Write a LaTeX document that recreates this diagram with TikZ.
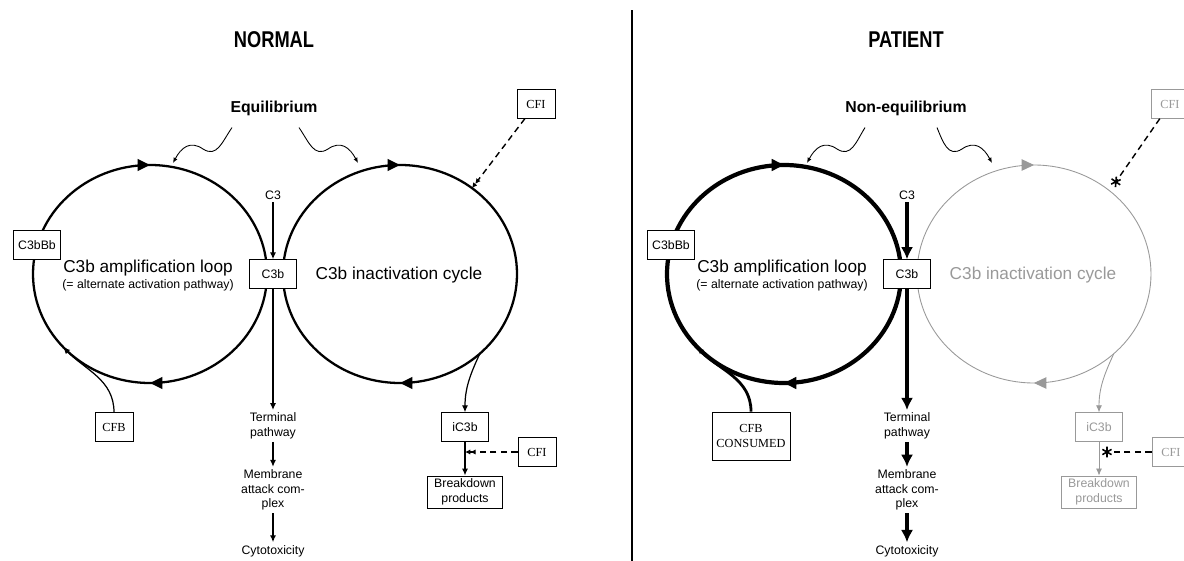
\documentclass[tikz,border=0pt]{standalone}
\usepackage{fontspec}
\setmainfont{Liberation Sans}
\newfontfamily\cfserif{Liberation Serif}
\usetikzlibrary{
    arrows.meta,
    decorations.markings,
    calc,
    positioning
}

\definecolor{fadegray}{gray}{0.6}

\newcommand{\smalltxt}{\fontsize{7}{8.2}\selectfont}
\newcommand{\midtxt}{\fontsize{9.8}{11}\selectfont}
\newcommand{\eqtxt}{\fontsize{9}{11}\selectfont\bfseries}
\newcommand{\titletxt}{\fontsize{13}{15}\selectfont\bfseries}

\tikzset{
    box/.style={draw, line width=0.5pt, fill=white, inner sep=0pt, font=\smalltxt, align=center,
        minimum width=0.95cm, minimum height=0.57cm},
    enzyme/.style={box, font=\cfserif\fontsize{7}{8.2}\selectfont, minimum width=0.76cm},
    plain/.style={font=\smalltxt, align=center, inner sep=1.5pt},
    ring/.style={line width=1.3pt, decoration={markings,
        mark=at position 0.25 with {\arrow{Triangle[length=7pt, width=6.5pt]}},
        mark=at position 0.75 with {\arrow{Triangle[length=7pt, width=6.5pt]}}},
        postaction=decorate},
    flow/.style={line width=0.8pt, -{Latex[length=4pt, width=3.5pt]}},
    fatflow/.style={line width=2.2pt, -{Latex[length=7pt, width=7pt]}},
    feed/.style={line width=0.7pt, -{Latex[length=4pt, width=3.5pt]}},
    squig/.style={line width=0.5pt, -{Latex[length=3pt, width=2.5pt]}},
    inhib/.style={line width=0.8pt, dash pattern=on 3.5pt off 2.5pt,
        -{Latex[length=3pt, width=3pt] Latex[length=3pt, width=3pt]}},
    blocked/.style={line width=0.8pt, dash pattern=on 3.5pt off 2.5pt,
        -{Rays[n=6, length=6pt, line width=0.9pt]}},
    faded/.style={draw=fadegray, text=fadegray}
}

\begin{document}
\begin{tikzpicture}[x=0.02cm, y=0.02cm]
    \useasboundingbox (0,0) rectangle (1184,-561);
    \draw[line width=0.6pt] (632,-10) -- (632,-561);

    % normal side
    \begin{scope}[shift={(0, 0)}]
        \node[font=\titletxt] (titleN) at (274,-40) {\scalebox{0.8}[1]{NORMAL}};
        \node[font=\eqtxt] (eqN) at (274,-108) {Equilibrium};
        \coordinate (ampN) at (150,-274);
        \coordinate (inaN) at (400,-274);
        \draw[ring] (ampN) ++(-117,0) arc[start angle=180, end angle=-180, x radius=117, y radius=109];
        \draw[ring] (inaN) ++(-117,0) arc[start angle=180, end angle=-180, x radius=117, y radius=109];
        \coordinate (cfbinN) at ([shift={(222:117 and 109)}]ampN);
        \coordinate (cfiinN) at ([shift={(52:117 and 109)}]inaN);
        \coordinate (ic3outN) at ([shift={(-47:117 and 109)}]inaN);
        \coordinate (eqlN) at (173,-163);
        \coordinate (eqrN) at (358,-163);

        \node[plain, font=\midtxt] (amptxtN) at (148,-268) {C3b amplification loop};
        \node[plain] (alttxtN) at (148,-285) {(= alternate activation pathway)};
        \node[plain, font=\midtxt] (inatxtN) at (399,-275) {C3b inactivation cycle};

        \node[box] (c3bbbN) at (37,-245) {C3bBb};
        \node[box] (c3bN) at (273,-274) {C3b};
        \node[plain] (c3N) at (273,-195) {C3};
        \node[plain] (termN) at (273,-426) {Terminal\\pathway};
        \node[plain] (macN) at (273,-490) {Membrane\\attack com-\\plex};
        \node[plain] (cytoN) at (273,-551) {Cytotoxicity};
        \node[enzyme] (cfbN) at (114,-427) {CFB};
        \node[enzyme] (cfitN) at (536,-104) {CFI};
        \node[box] (ic3bN) at (465,-427) {iC3b};
        \node[box, minimum width=1.5cm, minimum height=0.64cm] (bdN) at (465,-492) {Breakdown\\products};
        \node[enzyme] (cfibN) at (537,-452) {CFI};

        \draw[squig] ($(eqN.south)+(-42,-6)$) .. controls (222,-142) and (217,-158) .. (203,-149)
            .. controls (190,-140) and (181,-148) .. (eqlN);
        \draw[squig] ($(eqN.south)+(25,-6)$) .. controls (309,-142) and (314,-158) .. (328,-149)
            .. controls (341,-140) and (350,-148) .. (eqrN);
        \draw[flow] (c3N) -- (c3bN);
        \draw[flow] (c3bN) -- (termN);
        \draw[flow] (termN) -- (macN);
        \draw[flow] (macN) -- (cytoN);
        \draw[feed] (cfbN.north) to[out=90, in=-46] (cfbinN);
        \draw[feed] (ic3outN) to[out=-115, in=90] (ic3bN.north);
        \draw[flow] (ic3bN) -- (bdN);
        \draw[inhib] (cfitN) -- (cfiinN);
        \draw[inhib] (cfibN) -- (ic3bN |- cfibN);
    \end{scope}

    % patient side
    \begin{scope}[shift={(634, 0)}]
        \node[font=\titletxt] (titleP) at (272,-40) {\scalebox{0.8}[1]{PATIENT}};
        \node[font=\eqtxt] (eqP) at (272,-108) {Non-equilibrium};
        \coordinate (ampP) at (150,-274);
        \coordinate (inaP) at (400,-274);
        \draw[ring, line width=2.4pt] (ampP) ++(-117,0) arc[start angle=180, end angle=-180, x radius=117, y radius=109];
        \draw[ring, draw=fadegray, line width=0.5pt] (inaP) ++(-117,0) arc[start angle=180, end angle=-180, x radius=117, y radius=109];
        \coordinate (cfbinP) at ([shift={(222:117 and 109)}]ampP);
        \coordinate (cfiinP) at ([shift={(50:123 and 115)}]inaP);
        \coordinate (ic3outP) at ([shift={(-47:117 and 109)}]inaP);
        \coordinate (eqlP) at (173,-163);
        \coordinate (eqrP) at (358,-163);

        \node[plain, font=\midtxt] (amptxtP) at (148,-268) {C3b amplification loop};
        \node[plain] (alttxtP) at (148,-285) {(= alternate activation pathway)};
        \node[plain, font=\midtxt, text=fadegray] (inatxtP) at (399,-275) {C3b inactivation cycle};

        \node[box] (c3bbbP) at (37,-245) {C3bBb};
        \node[box] (c3bP) at (273,-274) {C3b};
        \node[plain] (c3P) at (273,-195) {C3};
        \node[plain] (termP) at (273,-426) {Terminal\\pathway};
        \node[plain] (macP) at (273,-490) {Membrane\\attack com-\\plex};
        \node[plain] (cytoP) at (273,-551) {Cytotoxicity};
        \node[enzyme, minimum width=1.56cm, minimum height=0.96cm] (cfbP) at (117,-436) {CFB\\CONSUMED};
        \node[enzyme, faded] (cfitP) at (536,-104) {CFI};
        \node[box, faded] (ic3bP) at (465,-427) {iC3b};
        \node[box, faded, minimum width=1.5cm, minimum height=0.64cm] (bdP) at (465,-492) {Breakdown\\products};
        \node[enzyme, faded] (cfibP) at (537,-452) {CFI};

        \draw[squig] ($(eqP.south)+(-41,-6)$) .. controls (222,-142) and (217,-158) .. (203,-149)
            .. controls (190,-140) and (181,-148) .. (eqlP);
        \draw[squig] ($(eqP.south)+(31,-6)$) .. controls (309,-142) and (314,-158) .. (328,-149)
            .. controls (341,-140) and (350,-148) .. (eqrP);
        \draw[fatflow] (c3P) -- (c3bP);
        \draw[fatflow] (c3bP) -- (termP);
        \draw[fatflow] (termP) -- (macP);
        \draw[fatflow] (macP) -- (cytoP);
        \draw[feed, line width=1.6pt] (cfbP.north) to[out=90, in=-46] (cfbinP);
        \draw[feed, fadegray, line width=0.5pt] (ic3outP) to[out=-115, in=90] (ic3bP.north);
        \draw[flow, fadegray, line width=0.5pt] (ic3bP) -- (bdP);
        \draw[blocked] (cfitP) -- (cfiinP);
        \draw[blocked] (cfibP) -- ($(ic3bP |- cfibP)+(3,0)$);
    \end{scope}
\end{tikzpicture}
\end{document}
